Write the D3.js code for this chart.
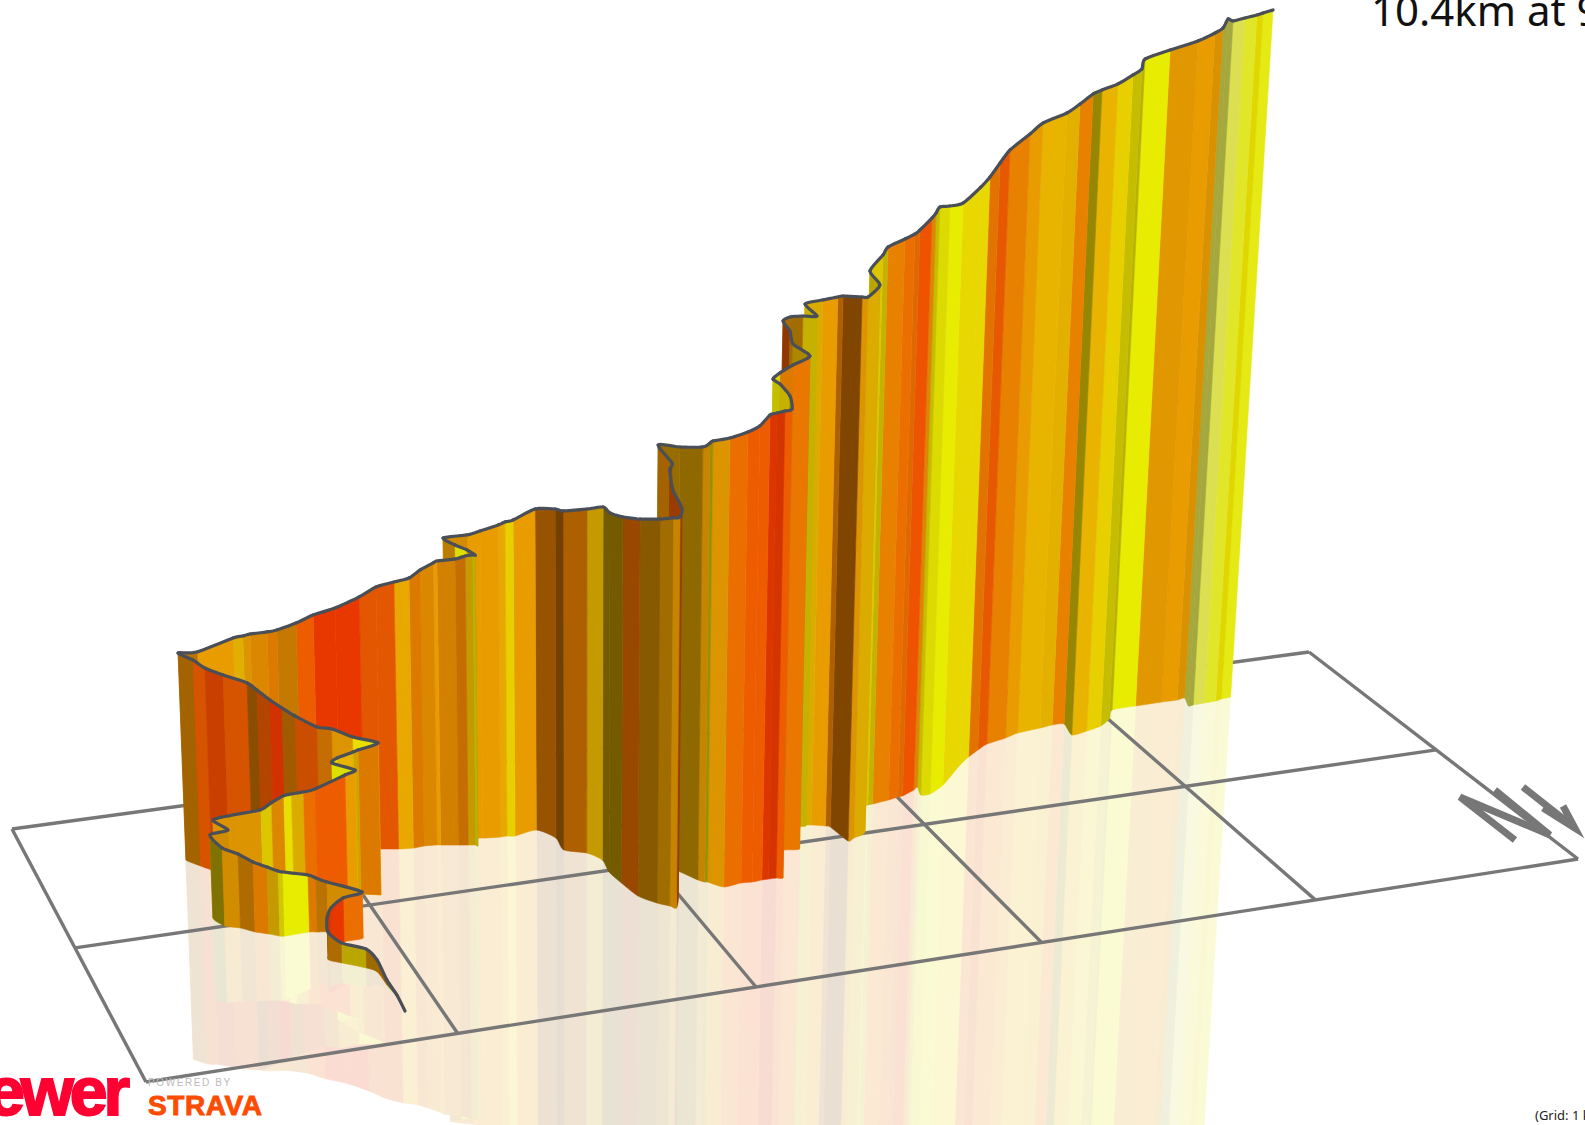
<!DOCTYPE html>
<html>
<head>
<meta charset="utf-8">
<script src="https://cdn.jsdelivr.net/npm/d3@7"></script>
<style>
  html, body { margin: 0; padding: 0; background: #fff; overflow: hidden; }
  svg { display: block; }
</style>
</head>
<body>
<div id="chart"></div>
<script>
// Route, in grid squares (1 km), start of the climb first
const routeX = [
  0.888,0.892,0.886,0.883,0.858,0.794,0.758,0.766,0.788,0.842,0.909,0.813,0.779,0.755,0.670,0.655,0.625,0.586,0.548,0.503,
  0.481,0.548,0.515,0.578,0.667,0.704,0.746,0.771,0.811,0.850,0.947,0.981,0.918,0.934,0.980,0.996,1.057,0.983,0.922,0.880,
  0.816,0.780,0.745,0.709,0.683,0.618,0.571,0.542,0.507,0.567,0.686,0.719,0.742,0.798,0.831,0.896,0.953,1.025,1.104,1.160,
  1.217,1.267,1.307,1.351,1.363,1.420,1.452,1.474,1.481,1.466,1.433,1.400,1.476,1.517,1.577,1.601,1.627,1.712,1.755,1.749,
  1.816,1.848,1.838,1.849,1.868,1.910,1.942,1.958,1.998,1.997,2.014,2.034,2.018,2.058,2.101,2.117,2.126,2.164,2.230,2.269,
  2.305,2.329,2.356,2.378,2.400,2.392,2.385,2.412,2.461,2.516,2.490,2.495,2.488,2.516,2.559,2.606,2.571,2.627,2.670,2.683,
  2.698,2.726,2.781,2.820,2.876,2.895,2.961,3.002,3.021,3.078,3.101,3.085,3.120,3.193,3.320,3.377,3.434,3.487,3.573,3.633,
  3.729,3.783,3.828,3.812,3.879,3.947,4.004,4.050,4.148,4.255,4.319,4.353,4.333,4.354,4.401,4.449,4.478,4.519
];
const routeY = [
  1.795,1.691,1.597,1.496,1.456,1.395,1.359,1.322,1.291,1.245,1.237,1.155,1.144,1.135,1.138,1.133,1.106,1.076,1.031,0.999,
  0.926,0.901,0.832,0.853,0.868,0.872,0.870,0.879,0.884,0.890,0.915,0.919,0.863,0.869,0.902,0.907,0.936,0.894,0.856,0.825,
  0.786,0.756,0.736,0.707,0.680,0.615,0.557,0.512,0.448,0.469,0.493,0.496,0.504,0.514,0.517,0.523,0.533,0.550,0.568,0.579,
  0.599,0.608,0.604,0.610,0.615,0.635,0.646,0.653,0.665,0.624,0.595,0.566,0.592,0.607,0.619,0.618,0.627,0.603,0.689,0.792,
  0.842,0.914,1.014,1.111,1.227,1.300,1.335,1.358,1.264,1.179,1.100,1.065,0.973,1.073,1.173,1.196,1.199,1.254,1.243,1.248,
  1.244,1.244,1.245,1.252,1.175,1.103,1.057,1.049,1.040,1.050,0.962,0.920,0.873,0.865,0.871,0.878,0.857,0.876,0.900,0.914,
  1.043,1.026,0.992,0.808,0.782,0.779,0.765,0.752,0.749,0.714,0.694,0.762,0.765,0.707,0.562,0.506,0.458,0.418,0.389,0.361,
  0.345,0.333,0.339,0.443,0.426,0.400,0.350,0.276,0.269,0.266,0.267,0.259,0.333,0.330,0.327,0.323,0.312,0.306
];
// metres climbed
const elevation = [
  0.0,2.6,6.6,15.9,25.2,26.6,37.3,49.3,56.1,58.9,61.7,67.1,72.5,76.5,85.7,87.0,89.7,93.8,99.3,104.7,
  111.7,110.6,114.9,121.6,125.8,133.9,140.7,143.3,144.7,147.5,164.9,170.3,174.6,181.3,191.8,194.5,205.1,210.5,218.7,218.9,
  231.0,239.1,248.5,259.3,266.2,270.7,273.9,279.6,281.6,283.0,299.2,300.7,303.3,304.8,306.3,313.2,322.6,330.8,344.2,356.3,
  362.9,367.1,375.3,383.4,386.1,388.7,392.7,394.0,395.2,397.2,401.4,408.4,412.4,417.7,424.5,427.3,429.9,437.6,446.7,457.6,
  463.6,474.0,479.5,486.4,497.9,505.4,509.9,513.3,510.9,523.1,538.0,541.6,554.1,562.1,572.6,579.7,582.3,591.2,594.7,601.3,
  613.1,614.6,616.1,618.7,625.0,632.1,633.3,639.0,646.1,656.6,662.8,674.4,682.2,685.3,685.6,684.6,698.9,704.1,708.9,711.2,
  723.5,720.6,730.0,726.5,742.1,751.4,757.8,761.4,765.6,775.2,778.8,794.1,794.4,789.8,791.4,796.8,808.4,819.6,834.9,844.6,
  853.1,862.1,874.3,889.6,893.8,901.0,902.5,907.4,915.7,923.9,932.7,937.5,956.4,952.9,955.1,957.3,958.1,960.3
];
// gradient (%) and wall lighting of the strip that starts at each route point
const grade = [
  7,7,9,8,6,9,7,14,14,11,8,9,10,4,5,7,10,9,8,6,
  8,8,8,8,6,9,5,7,11,12,8,4,4,7,7,10,5,8,10,12,
  10,14,12,10,12,13,12,9,9,8,7,8,9,10,9,12,14,14,12,12,
  7.5,10,9,8,9,10,7,5,8,4,8,8,8,8,7.5,6,8,10,10,10,
  7,7,7,11,8,8,8,12,12,12,11,9,7.5,7.5,8,5,8,11,12,12,
  14,14,12,6,6,5,5,10,10.5,7,8,12,9,8,6,6,7,8,10,10,
  8,7,6,6,6,10,11,11,12.5,9,5,4.5,4,5.5,5.5,10.5,12,10,8,7,
  7,10,6,7,6,5,5,4,8,8,8,2,2,2,3,5,3.5,3.5
];
const shade = [
  .55,.6,.7,.68,.8,.75,.55,.95,1,1,.9,.8,.95,1,.9,.85,.95,.75,.9,.55,
  .9,.95,.95,.95,.95,.95,1,.95,1,1,1,.95,.95,1,.9,.95,1,.95,.85,.85,
  .7,.9,.75,.6,.9,.85,.9,.7,.8,1,.97,.95,.95,.95,.85,1,1,1,.95,.95,
  1,.95,.95,1,.9,.85,.85,.8,.8,.95,.8,.9,1,1,1,1,1,.65,.5,.75,
  .85,.5,.5,.65,.58,.7,.85,.65,.65,.65,.65,.7,.65,.62,.85,.65,.95,1,1,1,
  .95,.92,1,.7,.85,.85,.95,.95,1,.75,.7,.6,.75,.7,.85,.85,.95,1,.75,.55,
  .95,.95,.8,.95,.85,1,1,.95,1,.95,.85,.95,1,1,1,.97,.97,1,1,1,
  .98,1,.65,1,1,.85,.8,1,.97,1,.93,.75,.75,1,1,.97,1,1
];
const gradeStops = [2, 4, 6, 7, 8, 10, 12, 14];
const gridXTicks = [0, 1, 2, 3, 4, 5];
const gridYTicks = [0, 1, 2];
// north sign lying on the ground, in grid squares
const northX = [4.875, 4.875, 5.010, 5.022];
const northY = [1.402, 1.790, 1.793, 1.388];
const arrowX = [5.129, 5.122, 5.104, 5.179];
const arrowY = [1.398, 1.770, 1.582, 1.590];

const width = 1585, height = 1125;
const gradeColors = ["#dce050", "#e8ec00", "#e8d000", "#e8b400", "#e89c00", "#e88000", "#ee5c00", "#e83800"];
const corners = [[12, 829], [1309, 652], [1578, 859], [146, 1082]];
const vanishing = [581, 11220];

// Ground plane homography from the grid corners
function solveH(c) {
  const [x0, y0] = c[0], [x1, y1] = c[1], [x2, y2] = c[2], [x3, y3] = c[3];
  const dx1 = x1 - x2, dx2 = x3 - x2, dy1 = y1 - y2, dy2 = y3 - y2;
  const sx = x0 - x1 + x2 - x3, sy = y0 - y1 + y2 - y3;
  const den = dx1 * dy2 - dy1 * dx2;
  const g = (sx * dy2 - sy * dx2) / den, h = (dx1 * sy - dy1 * sx) / den;
  return { a: x1 - x0 + g * x1, b: x3 - x0 + h * x3, c: x0, d: y1 - y0 + g * y1, e: y3 - y0 + h * y3, f: y0, g, h };
}
const H = solveH(corners);

const sScale = d3.scaleLinear().domain([0, gridXTicks[5]]).range([0, 1]);
const tScale = d3.scaleLinear().domain([0, gridYTicks[2]]).range([0, 1]);
const elevScale = d3.scaleLinear().domain([0, 1000]).range([0, -0.0685]);
const gradeColor = d3.scaleLinear().domain(gradeStops).range(gradeColors);

function project(gx, gy, elev) {
  const s = sScale(gx), t = tScale(gy), k = elevScale(elev);
  const xn = H.a * s + H.b * t + H.c + vanishing[0] * k;
  const yn = H.d * s + H.e * t + H.f + vanishing[1] * k;
  const w = H.g * s + H.h * t + 1 + k;
  return [xn / w, yn / w];
}

function stripColor(i) {
  const c = d3.rgb(gradeColor(grade[i]));
  return d3.rgb(c.r * shade[i], c.g * shade[i], c.b * shade[i]).formatHex();
}

// Rounded route between the points
const subSteps = 5, tangentK = 0.35;
function smooth(v, i, t) {
  const p0 = v[i], p1 = v[i + 1];
  const m0 = tangentK * (p1 - v[Math.max(i - 1, 0)]);
  const m1 = tangentK * (v[Math.min(i + 2, v.length - 1)] - p0);
  const t2 = t * t, t3 = t2 * t;
  return (2 * t3 - 3 * t2 + 1) * p0 + (t3 - 2 * t2 + t) * m0 + (-2 * t3 + 3 * t2) * p1 + (t3 - t2) * m1;
}
function routeSamples(i) {
  return d3.range(subSteps + 1).map(function (k) {
    const t = k / subSteps;
    return [smooth(routeX, i, t), smooth(routeY, i, t), smooth(elevation, i, t)];
  });
}

const svg = d3.select("#chart").append("svg").attr("width", width).attr("height", height);
const line = d3.line();

function drawStrip(g, i, sign, withTop) {
  const samples = routeSamples(i);
  const top = samples.map(function (p) { return project(p[0], p[1], sign * p[2]); });
  const foot = samples.map(function (p) { return project(p[0], p[1], 0); }).reverse();
  g.append("path").attr("d", line(top.concat(foot)) + "Z")
    .attr("fill", stripColor(i)).attr("stroke", stripColor(i)).attr("stroke-width", 0.6);
  if (withTop) {
    g.append("path").attr("d", line(top)).attr("fill", "none")
      .attr("stroke", "#4a4f57").attr("stroke-width", 3.2).attr("stroke-linecap", "round");
  }
}

// Reflection under the ground, then the grid, then the wall, far end first
const stripOrder = d3.range(routeX.length - 2, -1, -1);
const mirror = svg.append("g").attr("opacity", 0.17);
stripOrder.forEach(function (i) { drawStrip(mirror, i, -1, false); });

const grid = svg.append("g").attr("fill", "none").attr("stroke", "#777").attr("stroke-width", 3.4);
gridXTicks.forEach(function (gx) {
  grid.append("path").attr("d", line([project(gx, 0, 0), project(gx, 2, 0)]));
});
gridYTicks.forEach(function (gy) {
  grid.append("path").attr("d", line([project(0, gy, 0), project(5, gy, 0)]));
});

const wall = svg.append("g");
stripOrder.forEach(function (i) { drawStrip(wall, i, 1, true); });

// North sign
const sign = svg.append("g").attr("fill", "none").attr("stroke", "#777").attr("stroke-width", 7).attr("stroke-linejoin", "miter");
const np = northX.map(function (d, i) { return project(d, northY[i], 0); });
const ap = arrowX.map(function (d, i) { return project(d, arrowY[i], 0); });
sign.append("path").attr("d", line([np[1], np[0], np[2], np[3]]));
sign.append("path").attr("d", line([ap[0], ap[1]]));
sign.append("path").attr("d", line([ap[2], ap[1], ap[3]]));

// Texts
svg.append("text").attr("x", 1371).attr("y", 26).attr("font-family", "Noto Sans").attr("font-size", 42).attr("fill", "#111").text("10.4km at 9");
svg.append("text").attr("x", 1535).attr("y", 1120).attr("font-family", "Noto Sans").attr("font-size", 13).attr("fill", "#222").text("(Grid: 1 km)");
svg.append("text").attr("x", 126).attr("y", 1115).attr("text-anchor", "end").attr("font-family", "Liberation Sans").attr("font-weight", 700).attr("font-size", 68).attr("letter-spacing", -4).attr("stroke", "#ff0033").attr("stroke-width", 2).attr("fill", "#ff0033").text("VeloViewer");
svg.append("text").attr("x", 148).attr("y", 1086).attr("font-family", "Liberation Sans").attr("font-size", 10).attr("letter-spacing", 1.6).attr("fill", "#bbb").text("POWERED BY");
svg.append("text").attr("x", 148).attr("y", 1115).attr("font-family", "Liberation Sans").attr("font-weight", 700).attr("font-size", 28).attr("textLength", 114).attr("stroke", "#fc4c02").attr("stroke-width", 0.9).attr("fill", "#fc4c02").text("STRAVA");
</script>
</body>
</html>
